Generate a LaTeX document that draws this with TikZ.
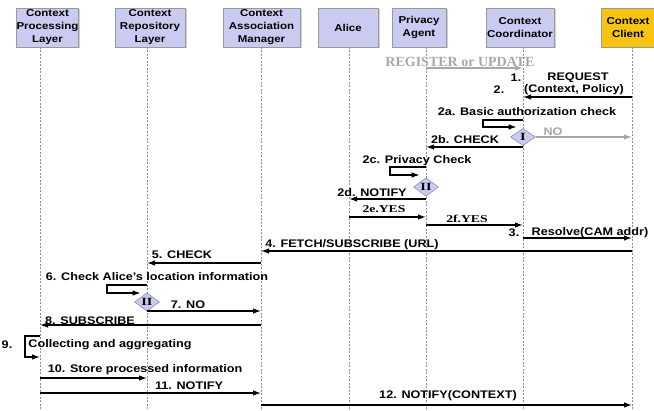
\documentclass[tikz,border=0pt]{standalone}
\usepackage{fontspec}
\setmainfont{Liberation Sans}[FakeStretch=1.15]
\newfontfamily\timesfont{Liberation Serif}[FakeStretch=1.3]
\newfontfamily\regfont{Liberation Serif}
\usepackage{xcolor}
\usepackage{tikz}
\usetikzlibrary{arrows.meta,shapes.geometric,shadows}
\definecolor{lifebox}{HTML}{CBCBF2}
\definecolor{clientbox}{HTML}{F7C511}
\definecolor{lifegray}{HTML}{8C8C8C}
\definecolor{msggray}{HTML}{A8A8A8}

\begin{document}
\begin{tikzpicture}[
    x=1pt, y=-1pt,
    every node/.style={font=\fontsize{11}{13}\selectfont\bfseries, inner sep=0pt},
    head/.style={
        rectangle,
        draw=gray!80,
        fill=lifebox,
        align=center,
        minimum height=39pt,
        drop shadow={shadow xshift=1.5pt, shadow yshift=-1.5pt, fill=gray!70},
        font=\fontsize{10}{13}\selectfont\bfseries
    },
    gate/.style={
        diamond,
        draw=gray!90!blue,
        fill=lifebox,
        minimum width=25pt,
        minimum height=17pt,
        font=\fontsize{11}{11}\timesfont\bfseries
    },
    life/.style={draw=lifegray, dash pattern=on 2pt off 1.5pt, line width=0.7pt},
    msg/.style={-{Latex[length=8pt,width=5.5pt]}, line width=1.2pt},
    greymsg/.style={msg, draw=msggray},
    serif/.style={font=\fontsize{10.5}{12}\timesfont\bfseries},
    greytext/.style={text=msggray}
]
\useasboundingbox (0,0) rectangle (654,411);

\node[head, minimum width=61pt] (cpl) at (47.5,27.5) {Context\\Processing\\Layer};
\node[head, minimum width=70pt] (crl) at (150,27.5) {Context\\Repository\\Layer};
\node[head, minimum width=77pt] (cam) at (261.5,27.5) {Context\\Association\\Manager};
\node[head, minimum width=60pt] (alice) at (348,27.5) {Alice};
\node[head, minimum width=54pt] (pa) at (419,27.5) {Privacy\\Agent};
\node[head, minimum width=68pt] (cc) at (520,27.5) {Context\\Coordinator};
\node[head, fill=clientbox, minimum width=53pt] (client) at (628,27.5) {Context\\Client};

\foreach \n/\x in {cpl/40, crl/147, cam/261, alice/349, pa/426, cc/523, client/632}
    \draw[life] (\x,47) coordinate (\n-l) -- (\x,411);

\node[gate] (check1) at (cc-l |- 0,137) {I};
\node[gate] (check2) at (pa-l |- 0,187) {II};
\node[gate] (check3) at (crl-l |- 0,302) {II};

\node[greytext, font=\fontsize{14}{14}\regfont\bfseries] (reg) at (460,62) {REGISTER or UPDATE};
\node (t1) at (516,78) {1.};
\node (treq) at (578,78) {REQUEST};
\node (t2) at (499,90) {2.};
\node (tpol) at (574,90) {(Context, Policy)};
\node (t2a) at (527,112) {2a. Basic authorization check};
\node[greytext] (tno) at (553,132) {NO};
\node (t2b) at (465,140) {2b. CHECK};
\node (t2c) at (417,161) {2c. Privacy Check};
\node (t2d) at (372,193) {2d. NOTIFY};
\node[serif] (t2e) at (384,209) {2e.YES};
\node[serif] (t2f) at (467,219) {2f.YES};
\node (t3) at (514,233) {3.};
\node (tres) at (590,233) {Resolve(CAM addr)};
\node (t4) at (352,245) {4. FETCH/SUBSCRIBE (URL)};
\node (t5) at (182,255) {5. CHECK};
\node (t6) at (157,277) {6. Check Alice's location information};
\node (t7) at (188,305) {7. NO};
\node (t8) at (90,321) {8. SUBSCRIBE};
\node (t9) at (7,345) {9.};
\node (t9b) at (110,345) {Collecting and aggregating};
\node (t10) at (145,370) {10. Store processed information};
\node (t11) at (189,386) {11. NOTIFY};
\node (t12) at (448,396) {12. NOTIFY(CONTEXT)};

\draw[greymsg] (pa-l |- 0,68) -- (cc-l |- 0,68);
\draw[msg] (client-l |- 0,97) -- (cc-l |- 0,97);
\draw[msg] (cc-l |- 0,120) -| (483,127) -- (check1.north west |- 0,127);
\draw[greymsg] (check1.east) -- (client-l |- check1.east);
\draw[msg] (cc-l |- 0,147) -- (pa-l |- 0,147);
\draw[msg] (pa-l |- 0,167) -| (390,175) -- (check2.north west |- 0,175);
\draw[msg] (pa-l |- 0,199) -- (alice-l |- 0,199);
\draw[msg] (alice-l |- 0,217) -- (pa-l |- 0,217);
\draw[msg] (pa-l |- 0,225) -- (cc-l |- 0,225);
\draw[msg] (cc-l |- 0,238) -- (client-l |- 0,238);
\draw[msg] (client-l |- 0,251) -- (cam-l |- 0,251);
\draw[msg] (cam-l |- 0,263) -- (crl-l |- 0,263);
\draw[msg] (crl-l |- 0,285) -| (107,293) -- (check3.north west |- 0,293);
\draw[msg] (crl-l |- 0,311) -- (cam-l |- 0,311);
\draw[msg] (cam-l |- 0,325) -- (cpl-l |- 0,325);
\draw[msg] (cpl-l |- 0,336) -| (25,357) -- (cpl-l |- 0,357);
\draw[msg] (cpl-l |- 0,378) -- (crl-l |- 0,378);
\draw[msg] (cpl-l |- 0,393) -- (cam-l |- 0,393);
\draw[msg] (cam-l |- 0,405) -- (client-l |- 0,405);

\end{tikzpicture}
\end{document}
